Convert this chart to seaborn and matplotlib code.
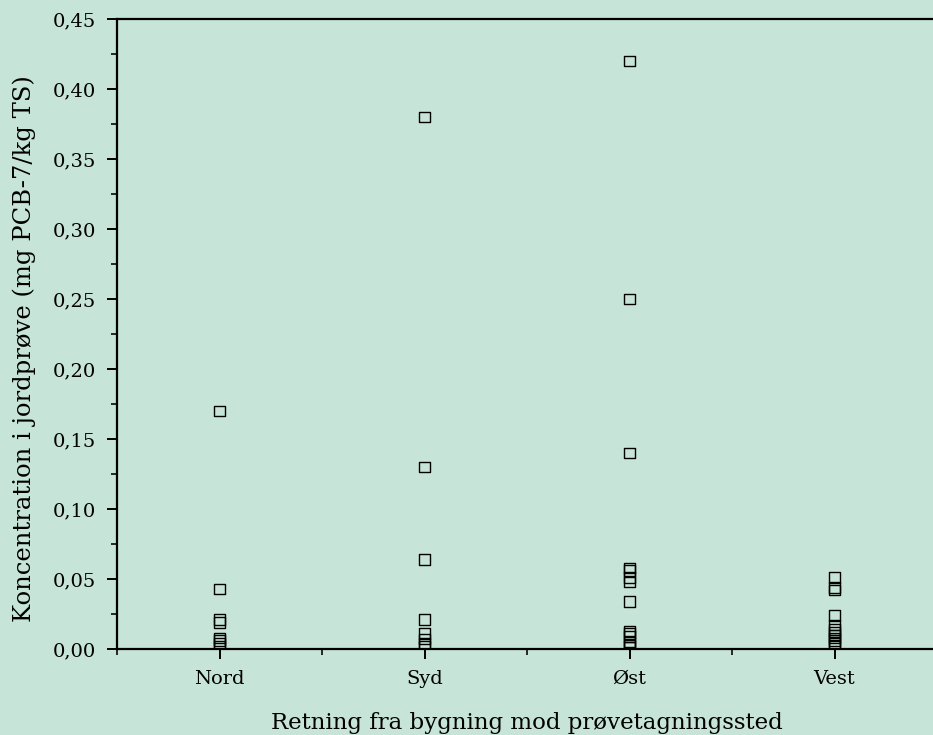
"""PCB-7 i jordprøver fordelt efter retning fra bygningen."""

import matplotlib

matplotlib.use("Agg")
import matplotlib.pyplot as plt
import pandas as pd
import seaborn as sns
from matplotlib.ticker import FixedLocator, FuncFormatter, MultipleLocator

RETNINGER = ["Nord", "Syd", "Øst", "Vest"]
NORD = [0.17, 0.043, 0.021, 0.019, 0.008, 0.006, 0.004, 0.002]
SYD = [0.38, 0.13, 0.064, 0.021, 0.011, 0.007, 0.004, 0.002]
OST = [0.42, 0.25, 0.14, 0.058, 0.056, 0.051, 0.048, 0.034,
       0.013, 0.011, 0.009, 0.005, 0.003, 0.001]
VEST = [0.051, 0.044, 0.042, 0.024, 0.017, 0.014, 0.012, 0.010,
        0.008, 0.006, 0.004, 0.002]

BG = "#c7e4d9"

df = pd.concat([
    pd.DataFrame({"retning": navn, "konc": v})
    for navn, v in zip(RETNINGER, [NORD, SYD, OST, VEST])
], ignore_index=True)

sns.set_theme(style="ticks")
plt.rcParams["font.family"] = ["DejaVu Serif"]

fig = plt.figure(figsize=(9.33, 7.35), dpi=100, facecolor=BG)
ax = fig.add_axes([117 / 933, 1 - 649 / 735, 820 / 933, 630 / 735])
ax.set_facecolor(BG)

sns.stripplot(data=df, x="retning", y="konc", order=RETNINGER, jitter=False,
              marker="s", size=7.5, linewidth=1, color="black", ax=ax)
for c in ax.collections:
    c.set_facecolor("none")
    c.set_edgecolor("black")

ax.set_xlim(-0.5, 3.5)
ax.set_ylim(0, 0.45)
ax.yaxis.set_major_locator(MultipleLocator(0.05))
ax.yaxis.set_minor_locator(MultipleLocator(0.025))
ax.yaxis.set_major_formatter(FuncFormatter(lambda v, p: f"{v:.2f}".replace(".", ",")))
ax.xaxis.set_minor_locator(FixedLocator([-0.5, 0.5, 1.5, 2.5, 3.5]))

for s in ax.spines.values():
    s.set_linewidth(1.6)
    s.set_color("black")
ax.tick_params(which="major", length=7, width=1.4, labelsize=14, colors="black")
ax.tick_params(which="minor", length=4, width=1.4)
ax.tick_params(axis="x", pad=8)
ax.tick_params(axis="y", pad=8)

ax.set_xlabel("Retning fra bygning mod prøvetagningssted", fontsize=16.5, color="black")
ax.xaxis.set_label_coords(0.5, (649 - 712) / 630)
ax.set_ylabel("Koncentration i jordprøve (mg PCB-7/kg TS)", fontsize=17.5, color="black")
ax.yaxis.set_label_coords((36 - 117) / 820, (649 - 349) / 630)

fig.savefig("out.png", dpi=100, facecolor=BG)
